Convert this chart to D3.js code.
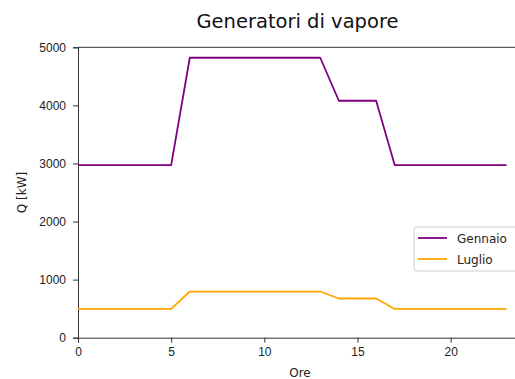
<!DOCTYPE html>
<html>
<head>
<meta charset="utf-8">
<script src="https://cdn.jsdelivr.net/npm/d3@7"></script>
<style>
  body { margin: 0; background: #fff; }
  svg { font-family: "DejaVu Sans", sans-serif; }
</style>
</head>
<body>
<div id="chart"></div>
<script>
// ore del giorno
const hours = d3.range(0, 24);
const gennaio = [2970, 2970, 2970, 2970, 2970, 2970, 4820, 4820, 4820, 4820, 4820, 4820,
  4820, 4820, 4080, 4080, 4080, 2970, 2970, 2970, 2970, 2970, 2970, 2970];
const luglio = [495, 495, 495, 495, 495, 495, 795, 795, 795, 795, 795, 795,
  795, 795, 675, 675, 675, 495, 495, 495, 495, 495, 495, 495];
const xTicks = [0, 5, 10, 15, 20];
const yTicks = [0, 1000, 2000, 3000, 4000, 5000];
const seriesNames = ["Gennaio", "Luglio"];
const seriesColors = ["#800080", "#FFA500"];

const width = 515, height = 379;
const margin = { top: 47.3, left: 78, bottom: 379 - 337.7, right: 515 - 528 };

const svg = d3.select("#chart").append("svg")
  .attr("width", width)
  .attr("height", height);

const x = d3.scaleLinear().domain([0, 24.15]).range([margin.left, width - margin.right]);
const y = d3.scaleLinear().domain([0, 5000]).range([height - margin.bottom, margin.top]);

// --- Axes ---
const xAxis = svg.append("g")
  .attr("transform", `translate(0,${y(0)})`)
  .call(d3.axisBottom(x).tickValues(xTicks).tickSize(5).tickPadding(5));
const yAxis = svg.append("g")
  .attr("transform", `translate(${x(0)},0)`)
  .call(d3.axisLeft(y).tickValues(yTicks).tickFormat(d3.format("d")).tickSize(5).tickPadding(7));

[xAxis, yAxis].forEach(a => {
  a.select(".domain").attr("stroke", "#333").attr("stroke-width", 1);
  a.selectAll(".tick line").attr("stroke", "#333");
  a.selectAll("text").style("font-size", "12px").attr("fill", "#222");
});

// top spine
svg.append("line")
  .attr("x1", x(0)).attr("x2", width - margin.right)
  .attr("y1", y(5000)).attr("y2", y(5000))
  .attr("stroke", "#333").attr("stroke-width", 1);

// --- Lines ---
const line = d3.line().x((d, i) => x(hours[i])).y(d => y(d));
[gennaio, luglio].forEach((s, k) => {
  svg.append("path")
    .datum(s)
    .attr("fill", "none")
    .attr("stroke", seriesColors[k])
    .attr("stroke-width", 1.8)
    .attr("stroke-linejoin", "round")
    .attr("d", line);
});

// --- Title & labels ---
svg.append("text")
  .attr("x", 297.5).attr("y", 27.5)
  .attr("text-anchor", "middle")
  .style("font-size", "19.5px")
  .attr("fill", "#111")
  .text("Generatori di vapore");

svg.append("text")
  .attr("x", 300).attr("y", 377)
  .attr("text-anchor", "middle")
  .style("font-size", "12px")
  .attr("fill", "#222")
  .text("Ore");

svg.append("text")
  .attr("transform", `translate(26,${(y(0) + y(5000)) / 2}) rotate(-90)`)
  .attr("text-anchor", "middle")
  .style("font-size", "12px")
  .attr("fill", "#222")
  .text("Q [kW]");

// --- Legend ---
const legend = svg.append("g").attr("transform", "translate(414,227)");
legend.append("rect")
  .attr("width", 110).attr("height", 44)
  .attr("rx", 3)
  .attr("fill", "#fff").attr("fill-opacity", 0.8)
  .attr("stroke", "#ccc");
seriesNames.forEach((name, i) => {
  const ly = 11 + i * 21;
  legend.append("line")
    .attr("x1", 4).attr("x2", 33)
    .attr("y1", ly).attr("y2", ly)
    .attr("stroke", seriesColors[i]).attr("stroke-width", 1.8);
  legend.append("text")
    .attr("x", 43).attr("y", ly + 4.5)
    .style("font-size", "12px")
    .attr("fill", "#222")
    .text(name);
});
</script>
</body>
</html>
